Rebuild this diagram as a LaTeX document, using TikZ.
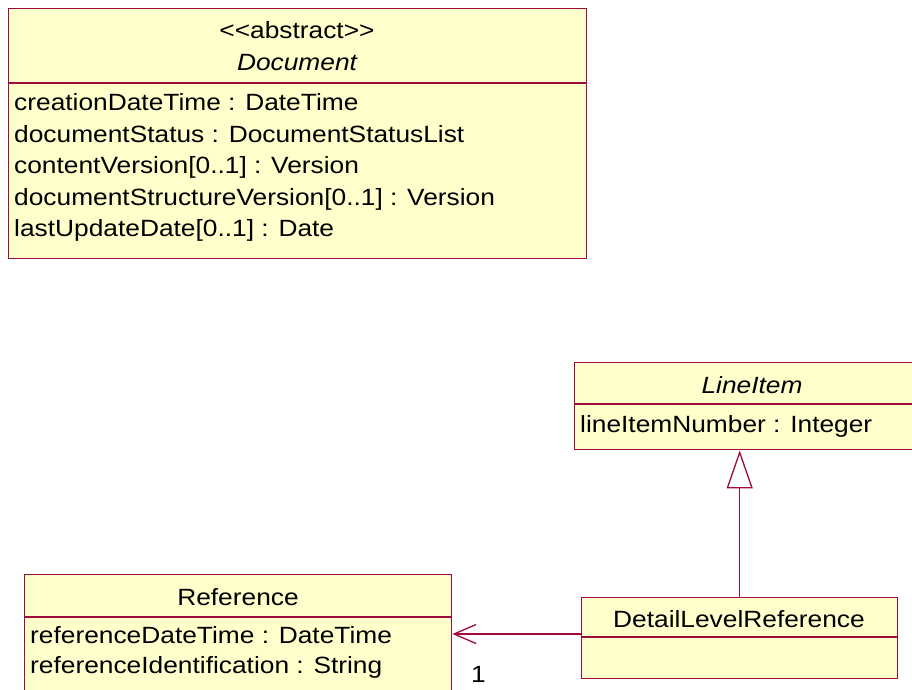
\documentclass[tikz,border=0pt]{standalone}
\usepackage{fontspec}
\setmainfont[FakeStretch=1.12,Ligatures=NoCommon]{Liberation Sans}
\usetikzlibrary{arrows.meta}
\definecolor{umlfill}{RGB}{255,255,204}
\definecolor{umlline}{RGB}{160,10,60}
\tikzset{
  box/.style={draw=umlline, fill=umlfill, line width=1.4pt, inner sep=0pt, anchor=north west},
  divider/.style={draw=umlline, line width=1.4pt},
  txt/.style={inner sep=0pt, anchor=base west, font=\fontsize{23.5}{28}\selectfont},
  ctxt/.style={inner sep=0pt, anchor=base, font=\fontsize{23.5}{28}\selectfont},
  assoc/.style={draw=umlline, line width=1.3pt, -{Straight Barb[length=22pt,width=19pt,line width=1.3pt]}},
  gen/.style={draw=umlline, line width=1.3pt, -{Triangle[open,length=38pt,width=26pt,fill=white,line width=1.3pt]}}
}
\begin{document}
\begin{tikzpicture}[x=1pt,y=-1pt]
\useasboundingbox (0,0) rectangle (912,689);
\clip (0,0) rectangle (912,689);
% Document
\node[box, minimum width=578pt, minimum height=250pt] (doc) at (8,8) {};
\draw[divider] (8,83) -- (586,83);
\node[ctxt] (docst) at (297,38) {<{}<abstract>{}>};
\node[ctxt] (docname) at (297,70) {\itshape Document};
\node[txt] (a1) at (14,110.7) {creationDateTime : DateTime};
\node[txt] (a2) at (14,142.2) {documentStatus : DocumentStatusList};
\node[txt] (a3) at (14,173.7) {contentVersion[0..1] : Version};
\node[txt] (a4) at (14,205.2) {documentStructureVersion[0..1] : Version};
\node[txt] (a5) at (14,236.7) {lastUpdateDate[0..1] : Date};
% LineItem
\node[box, minimum width=360pt, minimum height=87pt] (li) at (574,362) {};
\draw[divider] (574,404) -- (940,404);
\node[ctxt] (liname) at (752,393) {\itshape LineItem};
\node[txt] (la1) at (580,432) {lineItemNumber : Integer};
% DetailLevelReference
\node[box, minimum width=316pt, minimum height=81pt] (dlr) at (581,597) {};
\draw[divider] (581,637) -- (897,637);
\node[ctxt] (dlrname) at (739,627.5) {DetailLevelReference};
% Reference
\node[box, minimum width=427pt, minimum height=140pt] (ref) at (24,574) {};
\draw[divider] (24,617) -- (451,617);
\node[ctxt] (refname) at (238,605) {Reference};
\node[txt] (r1) at (30,643) {referenceDateTime : DateTime};
\node[txt] (r2) at (30,673) {referenceIdentification : String};
% connectors
\draw[gen] (dlr.north) -- (li.south -| dlr.north);
\draw[assoc] (dlr.west |- 0,634) -- (ref.east |- 0,634);
\node[txt] (mult) at (471,682) {1};
\end{tikzpicture}
\end{document}
